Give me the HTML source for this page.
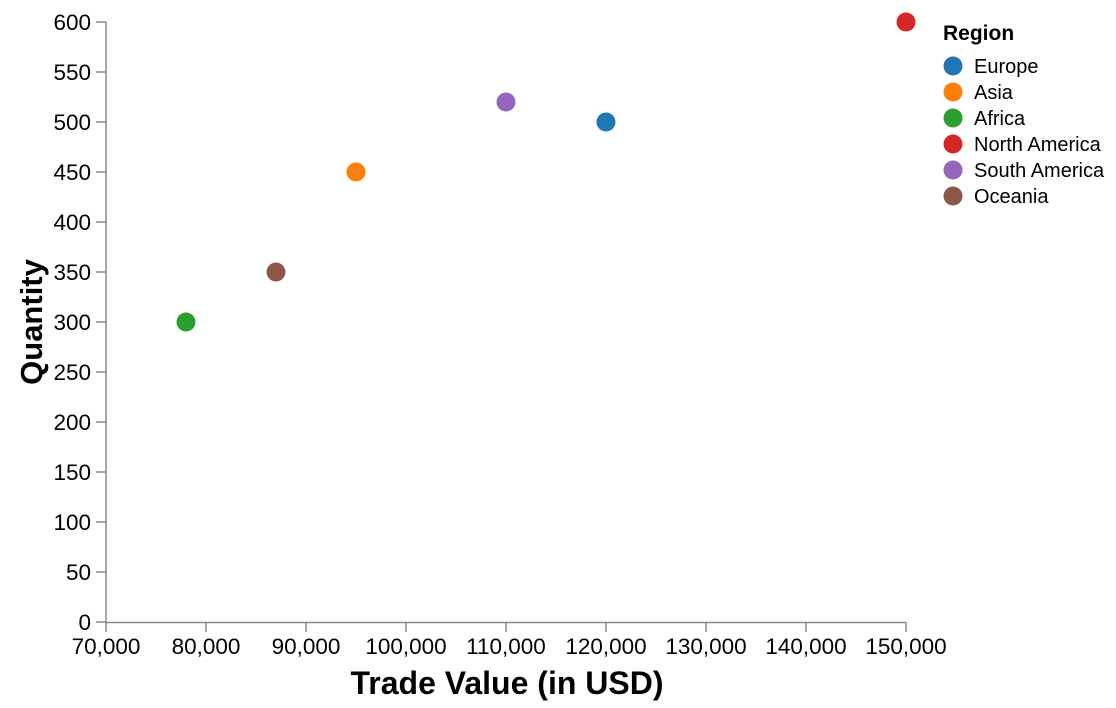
<!DOCTYPE html>
<html><head><meta charset="utf-8">
<style>
html,body{margin:0;padding:0;background:#fff;}
svg{display:block;font-family:"Liberation Sans",Arial,sans-serif;}
</style></head>
<body>
<svg id="chart" width="1116" height="708"></svg>
<script>
const regions = ["Europe","Asia","Africa","North America","South America","Oceania"];
const tradeValues = [120000,95000,78000,150000,110000,87000];
const quantities = [500,450,300,600,520,350];
const colors = ["#1f77b4","#ff7f0e","#2ca02c","#d62728","#9467bd","#8c564b"];
const xTicks = [70000,80000,90000,100000,110000,120000,130000,140000,150000];
const yTicks = [0,50,100,150,200,250,300,350,400,450,500,550,600];

const NS="http://www.w3.org/2000/svg";
const svg=document.getElementById('chart');
const X0=106,X1=906,Y0=622,Y1=22;
const xs=v=>X0+(v-70000)/(150000-70000)*(X1-X0);
const ys=v=>Y0-(v-0)/(600-0)*(Y0-Y1);
function mk(tag,attrs,parent){const e=document.createElementNS(NS,tag);for(const k in attrs)e.setAttribute(k,attrs[k]);(parent||svg).appendChild(e);return e;}
const fmt=v=>v.toLocaleString('en-US');

const xAxis=mk('g',{});


mk('line',{x1:X0,y1:Y0+0.5,x2:X1,y2:Y0+0.5,stroke:'#888','stroke-width':1.5},xAxis);
xTicks.forEach(t=>{
  mk('line',{x1:xs(t),y1:Y0,x2:xs(t),y2:Y0+10,stroke:'#888','stroke-width':1.5},xAxis);
  const tx=mk('text',{x:xs(t),y:Y0+32,'text-anchor':'middle','font-size':22.5,fill:'#000'},xAxis);
  tx.textContent=fmt(t);
  
  
});
const xt=mk('text',{x:507,y:694,'text-anchor':'middle','font-size':32,'font-weight':'bold'},xAxis);
xt.textContent='Trade Value (in USD)';



const yAxis=mk('g',{});


mk('line',{x1:X0,y1:Y1,x2:X0,y2:Y0,stroke:'#888','stroke-width':1.5},yAxis);
yTicks.forEach(t=>{
  mk('line',{x1:X0-10,y1:ys(t),x2:X0,y2:ys(t),stroke:'#888','stroke-width':1.5},yAxis);
  const tx=mk('text',{x:X0-15,y:ys(t)+8,'text-anchor':'end','font-size':22.5,fill:'#000'},yAxis);
  tx.textContent=t;
  
  
});
const yt=mk('text',{x:0,y:0,transform:'translate(42,322) rotate(-90)','text-anchor':'middle','font-size':31,'font-weight':'bold'},yAxis);
yt.textContent='Quantity';



regions.forEach((r,i)=>{
  const c=mk('circle',{cx:xs(tradeValues[i]),cy:ys(quantities[i]),r:9.5,fill:colors[i]});
  
  
});

const lg=mk('g',{});


const lt=mk('text',{x:943,y:40,'font-size':21,'font-weight':'bold'},lg);
lt.textContent='Region';


regions.forEach((r,i)=>{
  const g=mk('g',{},lg);
  
  
  const y=66+i*26;
  mk('circle',{cx:953,cy:y,r:9.5,fill:colors[i]},g);
  const t=mk('text',{x:974,y:y+7,'font-size':20},g);
  t.textContent=r;
});
</script>
</body></html>
